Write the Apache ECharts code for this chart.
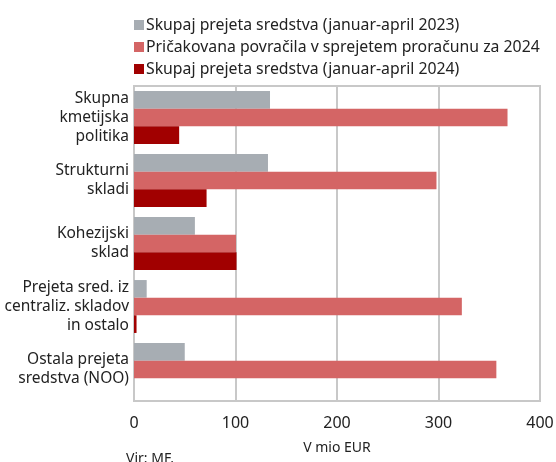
<!DOCTYPE html>
<html>
<head>
<meta charset="utf-8">
<script src="https://cdn.jsdelivr.net/npm/echarts@6/dist/echarts.min.js"></script>
<style>
  html, body { margin: 0; padding: 0; background: #fff; }
  #chart { width: 556px; height: 462px; }
</style>
</head>
<body>
<div id="chart"></div>
<script>
// kategorije in vrednosti (v mio EUR)
var categories = [
    'Skupna\nkmetijska\npolitika',
    'Strukturni\nskladi',
    'Kohezijski\nsklad',
    'Prejeta sred. iz\ncentraliz. skladov\nin ostalo',
    'Ostala prejeta\nsredstva (NOO)'
];
var seriesNames = [
    'Skupaj prejeta sredstva (januar-april 2023)',
    'Pričakovana povračila v sprejetem proračunu za 2024',
    'Skupaj prejeta sredstva (januar-april 2024)'
];
var received2023 = [134, 132, 60, 12.5, 50];
var expected2024 = [368, 298, 100.5, 323, 357];
var received2024 = [44.5, 71.5, 101, 2.5, null];
var xTicks = [0, 100, 200, 300, 400];

var colors = ['#a7adb3', '#d46565', '#a10000'];
var font = 'Noto Sans';

var chart = echarts.init(document.getElementById('chart'));

var seriesData = [received2023, expected2024, received2024];
var series = [];
for (var i = 0; i < seriesData.length; i++) {
    series.push({
        name: seriesNames[i],
        type: 'bar',
        data: seriesData[i],
        barGap: '0%',
        barCategoryGap: '16%',
        itemStyle: { color: colors[i] },
        emphasis: { disabled: true }
    });
}

var option = {
    animation: false,
    textStyle: { fontFamily: font },
    legend: {
        orient: 'vertical',
        left: 129,
        top: 11,
        itemWidth: 10,
        itemHeight: 10,
        itemGap: 4,
        icon: 'rect',
        selectedMode: false,
        textStyle: { fontFamily: font, fontSize: 15.8, color: '#222', lineHeight: 18, padding: [0, 0, 0, -3] },
        data: seriesNames
    },
    grid: {
        left: 134,
        right: 16,
        top: 86,
        bottom: 61,
        outerBoundsMode: 'none',
        show: true,
        borderColor: '#c8c8c8',
        borderWidth: 2
    },
    xAxis: {
        type: 'value',
        min: xTicks[0],
        max: xTicks[xTicks.length - 1],
        interval: 100,
        name: 'V mio EUR',
        nameLocation: 'middle',
        nameGap: 40,
        nameTextStyle: { fontFamily: font, fontSize: 14, color: '#222' },
        axisLine: { show: false },
        axisTick: { show: false },
        axisLabel: { fontFamily: font, fontSize: 16, color: '#222', margin: 14 },
        splitLine: { lineStyle: { color: '#c8c8c8', width: 2 } }
    },
    yAxis: {
        type: 'category',
        inverse: true,
        data: categories,
        axisLine: { lineStyle: { color: '#c8c8c8', width: 2 } },
        axisTick: { show: false },
        axisLabel: { fontFamily: font, fontSize: 15.5, color: '#222', lineHeight: 19, margin: 5, align: 'right' }
    },
    graphic: [{
        type: 'text',
        left: 126,
        top: 452,
        style: { text: 'Vir: MF.', fontFamily: font, fontSize: 14, fill: '#222' }
    }],
    series: series
};

chart.setOption(option);
</script>
</body>
</html>
